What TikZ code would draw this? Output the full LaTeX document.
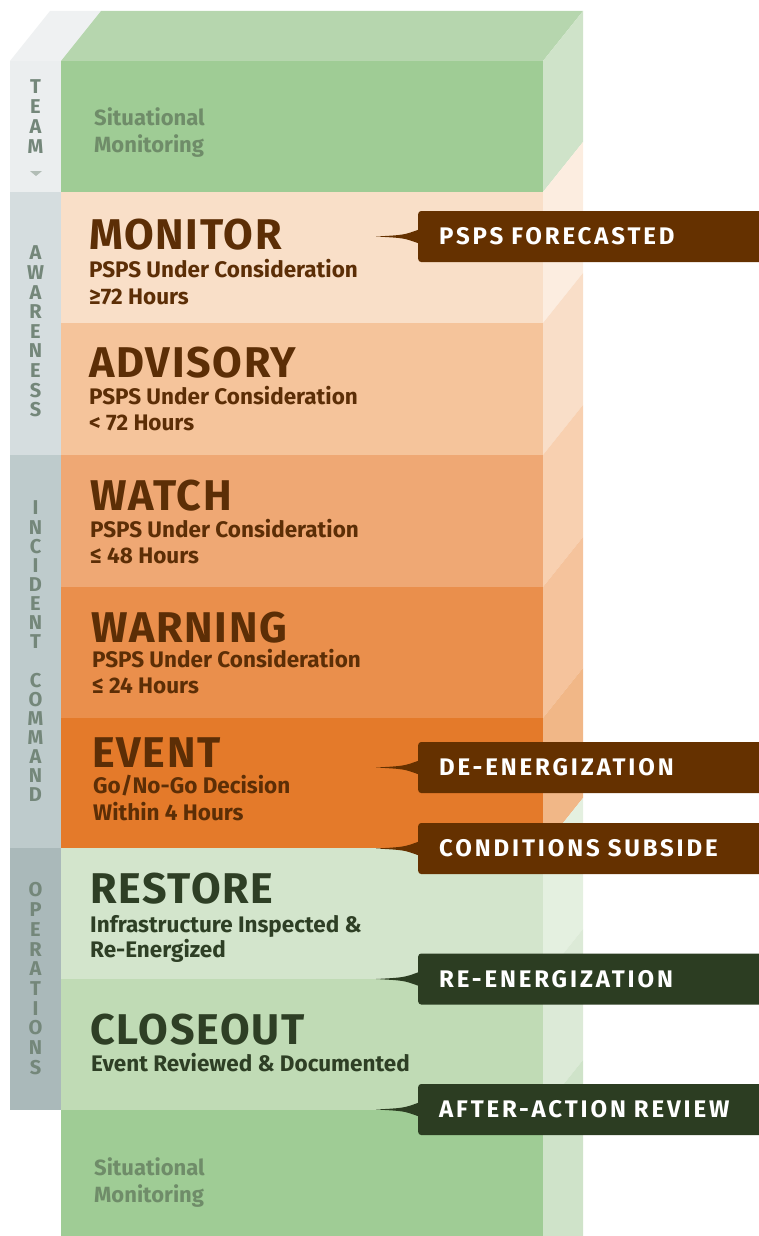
\documentclass[tikz,border=0pt]{standalone}
\usepackage{fontspec}
\setmainfont{Fira Sans}
\newfontfamily\tagfont{Fira Sans}[LetterSpace=12]
\newfontfamily\headfont{Fira Sans}[LetterSpace=4]
\usetikzlibrary{positioning, calc}

% band colours (front / side)
\definecolor{smfront}{HTML}{9FCC95}
\definecolor{smtop}{HTML}{B6D6AE}
\definecolor{smside}{HTML}{CFE3C9}
\definecolor{monfront}{HTML}{F9DFC8}
\definecolor{monside}{HTML}{FCEDE0}
\definecolor{advfront}{HTML}{F5C49B}
\definecolor{advside}{HTML}{F9DEC8}
\definecolor{watfront}{HTML}{EFA874}
\definecolor{watside}{HTML}{F8D0B0}
\definecolor{warfront}{HTML}{EA8F4C}
\definecolor{warside}{HTML}{F5C39C}
\definecolor{evtfront}{HTML}{E47A2A}
\definecolor{evtside}{HTML}{F1B787}
\definecolor{resfront}{HTML}{D3E5CC}
\definecolor{resside}{HTML}{E4F0E0}
\definecolor{clofront}{HTML}{C0DBB5}
\definecolor{closide}{HTML}{DCEAD7}
% team column
\definecolor{teamtop}{HTML}{EFF1F2}
\definecolor{teamcol}{HTML}{EBEEEF}
\definecolor{awarecol}{HTML}{D5DDDF}
\definecolor{incicol}{HTML}{BECBCC}
\definecolor{opercol}{HTML}{AAB9BA}
% inks
\definecolor{brownink}{HTML}{5C2E06}
\definecolor{greenink}{HTML}{2E3F25}
\definecolor{smink}{HTML}{6F8C69}
\definecolor{colink}{HTML}{74877A}
\definecolor{tagbrown}{HTML}{653100}
\definecolor{taggreen}{HTML}{2C3D22}

\begin{document}
\begin{tikzpicture}
[x=1pt, y=-1pt,
 stagetitle/.style={anchor=base west, inner sep=0pt, font=\headfont\fontsize{43}{43}\selectfont\bfseries},
 stagesub/.style={anchor=base west, inner sep=0pt, font=\fontsize{22.5}{22.5}\selectfont\bfseries},
 sitmon/.style={anchor=base west, inner sep=0pt, text=smink, font=\fontsize{22}{22}\selectfont\bfseries},
 colletter/.style={inner sep=0pt, text=colink, font=\fontsize{20}{20}\selectfont\bfseries},
 tag/.style={rectangle, rounded corners=3pt, minimum height=51pt, text width=320pt,
   inner xsep=21pt, inner ysep=0pt, align=left, anchor=west, text=white,
   font=\tagfont\fontsize{24}{24}\selectfont\bfseries}]

\useasboundingbox (0,0) rectangle (759,1236);
\clip (0,0) rectangle (759,1236);

% top faces
\fill[teamtop] (10,61) -- (50,11) -- (101,11) -- (61,61) -- cycle;
\fill[smtop] (61,61) -- (101,11) -- (583,11) -- (543,61) -- cycle;

% bands: front and side faces
\foreach \t/\b/\cf/\cs in {61/192/smfront/smside, 192/323/monfront/monside,
    323/455/advfront/advside, 455/587/watfront/watside, 587/718/warfront/warside,
    718/848/evtfront/evtside, 848/979/resfront/resside, 979/1110/clofront/closide,
    1110/1290/smfront/smside}
{
  \fill[\cf] (61,\t) rectangle (543,\b);
  \fill[\cs] (543,\t) -- (583,\t-50) -- (583,\b-50) -- (543,\b) -- cycle;
}

% team column
\fill[teamcol] (10,61) rectangle (61,192);
\fill[awarecol] (10,192) rectangle (61,455);
\fill[incicol] (10,455) rectangle (61,848);
\fill[opercol] (10,848) rectangle (61,1110);

\foreach \l [count=\i from 0] in {T,E,A,M}
  \node[colletter] (team-\i) at (35.5, 87+19.7*\i) {\l};
\fill[colink!55] (30,171) -- (42,171) -- (36,176) -- cycle;
\foreach \l [count=\i from 0] in {A,W,A,R,E,N,E,S,S}
  \node[colletter] (aware-\i) at (35.5, 253+19.6*\i) {\l};
\foreach \l [count=\i from 0] in {I,N,C,I,D,E,N,T,{},C,O,M,M,A,N,D}
  \node[colletter] (inci-\i) at (35.5, 508+19.13*\i) {\l};
\foreach \l [count=\i from 0] in {O,P,E,R,A,T,I,O,N,S}
  \node[colletter] (oper-\i) at (35.5, 890+19.7*\i) {\l};

% stage texts
\node[sitmon] (sm-top-a) at (94,126) {Situational};
\node[sitmon] (sm-top-b) at (94,153) {Monitoring};

\node[stagetitle, text=brownink] (monitor) at (89,249) {MONITOR};
\node[stagesub, text=brownink] (monitor-a) at (89,277) {PSPS Under Consideration};
\node[stagesub, text=brownink] (monitor-b) at (89,304) {≥72 Hours};

\node[stagetitle, text=brownink] (advisory) at (89,377) {ADVISORY};
\node[stagesub, text=brownink] (advisory-a) at (89,404) {PSPS Under Consideration};
\node[stagesub, text=brownink] (advisory-b) at (89,430) {< 72 Hours};

\node[stagetitle, text=brownink] (watch) at (90,510) {WATCH};
\node[stagesub, text=brownink] (watch-a) at (90,537) {PSPS Under Consideration};
\node[stagesub, text=brownink] (watch-b) at (90,563) {≤ 48 Hours};

\node[stagetitle, text=brownink] (warning) at (91,642) {WARNING};
\node[stagesub, text=brownink] (warning-a) at (92,667) {PSPS Under Consideration};
\node[stagesub, text=brownink] (warning-b) at (92,693) {≤ 24 Hours};

\node[stagetitle, text=brownink] (event) at (92,767) {EVENT};
\node[stagesub, text=brownink] (event-a) at (93,793) {Go/No-Go Decision};
\node[stagesub, text=brownink] (event-b) at (93,820) {Within 4 Hours};

\node[stagetitle, text=greenink] (restore) at (90,903) {RESTORE};
\node[stagesub, text=greenink] (restore-a) at (90,932) {Infrastructure Inspected \&};
\node[stagesub, text=greenink] (restore-b) at (90,957) {Re-Energized};

\node[stagetitle, text=greenink] (closeout) at (90,1044) {CLOSEOUT};
\node[stagesub, text=greenink] (closeout-a) at (91,1071) {Event Reviewed \& Documented};

\node[sitmon] (sm-bottom-a) at (94,1175) {Situational};
\node[sitmon] (sm-bottom-b) at (94,1202) {Monitoring};

% callouts
\node[tag, fill=tagbrown] (forecast) at (418,236.5) {PSPS FORECASTED};
\node[tag, fill=tagbrown] (deenergize) at (418,767.5) {DE-ENERGIZATION};
\node[tag, fill=tagbrown] (subside) at (418,848.5) {CONDITIONS SUBSIDE};
\node[tag, fill=taggreen] (reenergize) at (418,979) {RE-ENERGIZATION};
\node[tag, fill=taggreen] (review) at (418,1109.5) {AFTER-ACTION REVIEW};

\foreach \n/\c in {forecast/tagbrown, deenergize/tagbrown, subside/tagbrown,
    reenergize/taggreen, review/taggreen}
{
  \coordinate[left=42pt of \n.west] (\n-tip);
  \fill[\c] ($(\n.west)+(1,-7)$) .. controls ($(\n.west)+(-14,-1.5)$) .. (\n-tip)
    .. controls ($(\n.west)+(-14,1.5)$) .. ($(\n.west)+(1,7)$) -- cycle;
}

\end{tikzpicture}
\end{document}
